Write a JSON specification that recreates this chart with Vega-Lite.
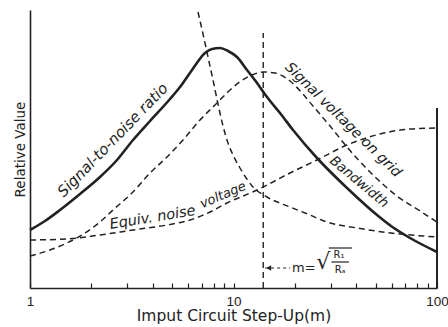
{
  "$schema": "https://vega.github.io/schema/vega-lite/v6.json",
  "width": 407,
  "height": 278,
  "autosize": {"type": "none"},
  "padding": {"left": 30, "top": 10, "right": 11, "bottom": 39},
  "background": "white",
  "config": {"view": {"stroke": null}, "font": "DejaVu Sans"},
  "datasets": {
    "curves": [
      {"series": "snr", "m": 1, "v": 58},
      {"series": "snr", "m": 1.185, "v": 67},
      {"series": "snr", "m": 1.404, "v": 78},
      {"series": "snr", "m": 1.761, "v": 94},
      {"series": "snr", "m": 2.208, "v": 111},
      {"series": "snr", "m": 2.677, "v": 128},
      {"series": "snr", "m": 3.208, "v": 148},
      {"series": "snr", "m": 3.889, "v": 167},
      {"series": "snr", "m": 4.875, "v": 189},
      {"series": "snr", "m": 5.459, "v": 201},
      {"series": "snr", "m": 6.254, "v": 218},
      {"series": "snr", "m": 7.244, "v": 235},
      {"series": "snr", "m": 7.841, "v": 239},
      {"series": "snr", "m": 8.584, "v": 240},
      {"series": "snr", "m": 9.397, "v": 237},
      {"series": "snr", "m": 10.4, "v": 231},
      {"series": "snr", "m": 11.65, "v": 218},
      {"series": "snr", "m": 13.05, "v": 205},
      {"series": "snr", "m": 14.61, "v": 191},
      {"series": "snr", "m": 16.92, "v": 175},
      {"series": "snr", "m": 19.61, "v": 158},
      {"series": "snr", "m": 25.72, "v": 130},
      {"series": "snr", "m": 36.13, "v": 100},
      {"series": "snr", "m": 50.73, "v": 73},
      {"series": "snr", "m": 59.43, "v": 62},
      {"series": "snr", "m": 73.7, "v": 50},
      {"series": "snr", "m": 100, "v": 36},
      {"series": "sig", "m": 1, "v": 32},
      {"series": "sig", "m": 1.254, "v": 38},
      {"series": "sig", "m": 1.52, "v": 45},
      {"series": "sig", "m": 1.864, "v": 55},
      {"series": "sig", "m": 2.208, "v": 66},
      {"series": "sig", "m": 2.558, "v": 78},
      {"series": "sig", "m": 3.171, "v": 95},
      {"series": "sig", "m": 3.889, "v": 115},
      {"series": "sig", "m": 4.712, "v": 131},
      {"series": "sig", "m": 5.647, "v": 148},
      {"series": "sig", "m": 6.845, "v": 168},
      {"series": "sig", "m": 8.297, "v": 185},
      {"series": "sig", "m": 9.612, "v": 198},
      {"series": "sig", "m": 10.89, "v": 207},
      {"series": "sig", "m": 12.33, "v": 213},
      {"series": "sig", "m": 13.96, "v": 216},
      {"series": "sig", "m": 15.99, "v": 215},
      {"series": "sig", "m": 18.95, "v": 207},
      {"series": "sig", "m": 21.95, "v": 194},
      {"series": "sig", "m": 24.58, "v": 182},
      {"series": "sig", "m": 29.81, "v": 162},
      {"series": "sig", "m": 36.13, "v": 141},
      {"series": "sig", "m": 46.86, "v": 116},
      {"series": "sig", "m": 63.61, "v": 92},
      {"series": "sig", "m": 82.51, "v": 77},
      {"series": "sig", "m": 100, "v": 66},
      {"series": "bw", "m": 6.692, "v": 276},
      {"series": "bw", "m": 7.083, "v": 254},
      {"series": "bw", "m": 7.494, "v": 231},
      {"series": "bw", "m": 7.931, "v": 208},
      {"series": "bw", "m": 8.392, "v": 184},
      {"series": "bw", "m": 8.881, "v": 162},
      {"series": "bw", "m": 9.397, "v": 145},
      {"series": "bw", "m": 10.06, "v": 131},
      {"series": "bw", "m": 10.76, "v": 120},
      {"series": "bw", "m": 12.47, "v": 101},
      {"series": "bw", "m": 14.61, "v": 91},
      {"series": "bw", "m": 18.95, "v": 81},
      {"series": "bw", "m": 23.76, "v": 73},
      {"series": "bw", "m": 27.84, "v": 67},
      {"series": "bw", "m": 40.45, "v": 60},
      {"series": "bw", "m": 59.43, "v": 55},
      {"series": "bw", "m": 100, "v": 51},
      {"series": "noise", "m": 1, "v": 48},
      {"series": "noise", "m": 1.52, "v": 49},
      {"series": "noise", "m": 2.208, "v": 53},
      {"series": "noise", "m": 3.208, "v": 58},
      {"series": "noise", "m": 4.712, "v": 63},
      {"series": "noise", "m": 6.112, "v": 68},
      {"series": "noise", "m": 7.665, "v": 76},
      {"series": "noise", "m": 9.29, "v": 85},
      {"series": "noise", "m": 13.05, "v": 98},
      {"series": "noise", "m": 18.95, "v": 115},
      {"series": "noise", "m": 25.72, "v": 128},
      {"series": "noise", "m": 36.13, "v": 143},
      {"series": "noise", "m": 52.48, "v": 154},
      {"series": "noise", "m": 73.7, "v": 159},
      {"series": "noise", "m": 100, "v": 160}
    ],
    "labels": [
      {"id": "snr", "text": "Signal-to-noise ratio", "m": 2.55, "v": 148},
      {"id": "sig", "text": "Signal voltage on grid", "m": 34.5, "v": 168},
      {"id": "bw", "text": "Bandwidth", "m": 41.4, "v": 106},
      {"id": "n1", "text": "Equiv. noise", "m": 4.0, "v": 70},
      {"id": "n2", "text": "voltage", "m": 8.881, "v": 93}
    ]
  },
  "encoding": {
    "x": {"field": "m", "type": "quantitative", "scale": {"type": "log", "domain": [1, 100]}},
    "y": {"field": "v", "type": "quantitative", "scale": {"domain": [0, 278]}}
  },
  "layer": [
    {
      "data": {"name": "curves"},
      "transform": [{"filter": "datum.series === 'snr'"}],
      "mark": {"type": "line", "color": "#222", "strokeWidth": 2.6, "interpolate": "monotone"},
      "encoding": {
        "x": {"field": "m", "type": "quantitative", "scale": {"type": "log", "domain": [1, 100]},
          "axis": {"title": "Imput Circuit Step-Up(m)", "values": [1,2,3,4,5,6,7,8,9,10,20,30,40,50,60,70,80,90,100],
            "labelExpr": "(datum.value == 1 || datum.value == 10 || datum.value == 100) ? format(datum.value, 'd') : ''",
            "grid": false, "tickSize": -5, "tickColor": "#222", "tickWidth": 1.2, "domainColor": "#222", "domainWidth": 1.6,
            "labelFontSize": 13.5, "labelFont": "Liberation Sans", "labelColor": "#222", "labelPadding": 11, "labelOverlap": false, "labelBound": false, "labelFlush": false,
            "titleFontSize": 15.5, "titleFont": "DejaVu Sans", "titleFontWeight": "normal", "titleColor": "#222", "titlePadding": 1}},
        "y": {"field": "v", "type": "quantitative", "scale": {"domain": [0, 278]},
          "axis": {"title": "Relative Value", "ticks": false, "labels": false, "grid": false, "domainColor": "#222", "domainWidth": 1.6,
            "titleFontSize": 13.5, "titleFontWeight": "normal", "titleColor": "#222", "titlePadding": 3}}
      }
    },
    {
      "data": {"name": "curves"},
      "transform": [{"filter": "datum.series !== 'snr'"}],
      "mark": {"type": "line", "color": "#222", "strokeWidth": 1.5, "strokeDash": [6, 4], "interpolate": "monotone"},
      "encoding": {"detail": {"field": "series"}}
    },
    {
      "data": {"values": [{"m": 14, "v": 0, "v2": 255}, {"m": 100, "v": 0, "v2": 180}]},
      "mark": {"type": "rule", "color": "#222"},
      "encoding": {
        "y2": {"field": "v2"},
        "strokeDash": {"condition": {"test": "datum.m == 14", "value": [6, 4]}, "value": [1, 0]},
        "strokeWidth": {"condition": {"test": "datum.m == 14", "value": 1.4}, "value": 2}
      }
    },
    {
      "data": {"values": [{"m": 14.3, "v": 20, "m2": 19.0}]},
      "mark": {"type": "rule", "color": "#222", "strokeWidth": 1.2, "strokeDash": [3, 3]},
      "encoding": {"x2": {"field": "m2"}}
    },
    {
      "data": {"values": [{"m": 14.9, "v": 20}]},
      "mark": {"type": "point", "shape": "triangle-left", "filled": true, "color": "#222", "size": 30, "opacity": 1}
    },
    {
      "data": {"values": [{"m": 29.4, "v": 40, "m2": 38.2}, {"m": 30.3, "v": 26, "m2": 36.9}]},
      "mark": {"type": "rule", "color": "#222", "strokeWidth": 1.2},
      "encoding": {"x2": {"field": "m2"}}
    },
    {
      "data": {"values": [{"t": "m=", "m": 19.4, "v": 20}]},
      "mark": {"type": "text", "align": "left", "baseline": "middle", "fontSize": 13, "color": "#222"},
      "encoding": {"text": {"field": "t"}}
    },
    {
      "data": {"values": [{"t": "√", "m": 27.6, "v": 26}]},
      "mark": {"type": "text", "align": "center", "baseline": "middle", "fontSize": 22, "color": "#222"},
      "encoding": {"text": {"field": "t"}}
    },
    {
      "data": {"values": [{"t": "R₁", "m": 33.0, "v": 33}, {"t": "Rₐ", "m": 33.4, "v": 18}]},
      "mark": {"type": "text", "align": "center", "baseline": "middle", "fontSize": 10, "color": "#222"},
      "encoding": {"text": {"field": "t"}}
    },
    {
      "data": {"name": "labels"},
      "transform": [{"filter": "datum.id === 'snr'"}],
      "mark": {"type": "text", "angle": -46, "fontSize": 15, "fontStyle": "italic", "align": "center", "baseline": "middle", "color": "#222"},
      "encoding": {"text": {"field": "text"}}
    },
    {
      "data": {"name": "labels"},
      "transform": [{"filter": "datum.id === 'sig'"}],
      "mark": {"type": "text", "angle": 44.5, "fontSize": 14.3, "fontStyle": "italic", "align": "center", "baseline": "middle", "color": "#222"},
      "encoding": {"text": {"field": "text"}}
    },
    {
      "data": {"name": "labels"},
      "transform": [{"filter": "datum.id === 'bw'"}],
      "mark": {"type": "text", "angle": 40, "fontSize": 13.5, "fontStyle": "italic", "align": "center", "baseline": "middle", "color": "#222"},
      "encoding": {"text": {"field": "text"}}
    },
    {
      "data": {"name": "labels"},
      "transform": [{"filter": "datum.id === 'n1'"}],
      "mark": {"type": "text", "angle": -9.5, "fontSize": 14.5, "fontStyle": "italic", "align": "center", "baseline": "middle", "color": "#222"},
      "encoding": {"text": {"field": "text"}}
    },
    {
      "data": {"name": "labels"},
      "transform": [{"filter": "datum.id === 'n2'"}],
      "mark": {"type": "text", "angle": -23, "fontSize": 13, "fontStyle": "italic", "align": "center", "baseline": "middle", "color": "#222"},
      "encoding": {"text": {"field": "text"}}
    }
  ]
}
